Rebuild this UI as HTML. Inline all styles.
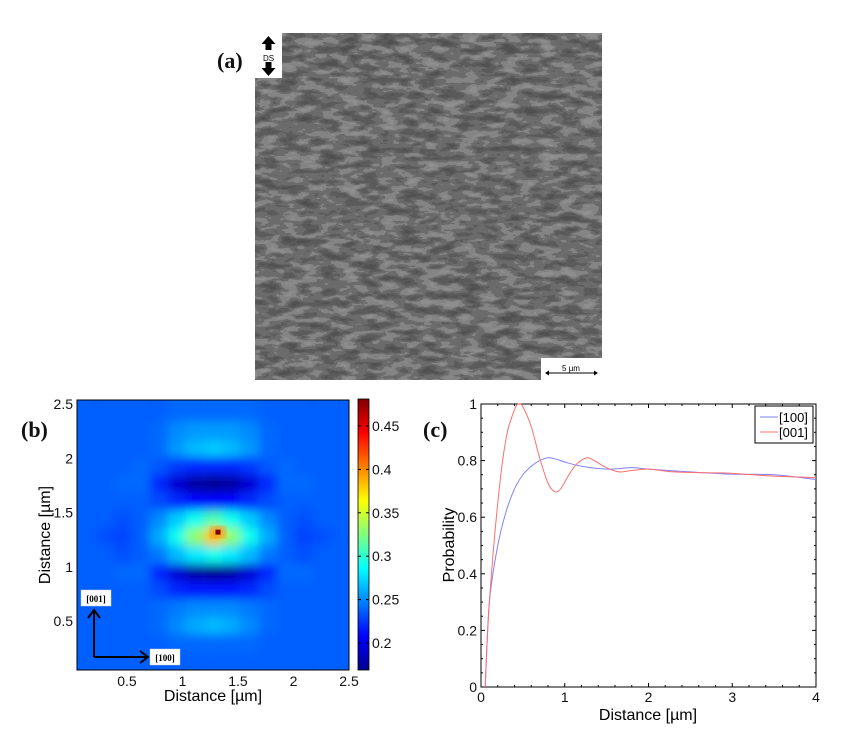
<!DOCTYPE html>
<html><head><meta charset="utf-8">
<style>
body{margin:0;background:#fff;width:853px;height:746px;overflow:hidden;font-family:"Liberation Sans",sans-serif}
svg{position:absolute;left:0;top:0}
.lbl{font-family:"Liberation Serif",serif;font-weight:bold;font-size:22px;fill:#111}
.tk{font-size:14px;fill:#111}
</style></head><body>
<svg id="root" width="853" height="746">
<defs>
<filter id="sem" x="0" y="0" width="100%" height="100%" color-interpolation-filters="sRGB">
<feTurbulence type="fractalNoise" baseFrequency="0.05 0.13" numOctaves="3" seed="7" result="n"/>
<feColorMatrix in="n" type="matrix" values="1 0 0 0 0  1 0 0 0 0  1 0 0 0 0  0 0 0 0 1" result="g0"/>
<feComponentTransfer in="g0"><feFuncR type="discrete" tableValues="0.30 0.32 0.36 0.42 0.52 0.56 0.58"/><feFuncG type="discrete" tableValues="0.30 0.32 0.36 0.42 0.52 0.56 0.58"/><feFuncB type="discrete" tableValues="0.30 0.32 0.36 0.42 0.52 0.56 0.58"/></feComponentTransfer>
</filter>
<filter id="blur" x="-5%" y="-5%" width="110%" height="110%"><feGaussianBlur stdDeviation="5"/></filter>
<clipPath id="hclip"><rect x="77" y="400" width="272" height="270"/></clipPath>
<linearGradient id="cbar" x1="0" y1="1" x2="0" y2="0">
<stop offset="0" stop-color="#00008f"/><stop offset="0.125" stop-color="#0000ff"/><stop offset="0.375" stop-color="#00ffff"/><stop offset="0.625" stop-color="#ffff00"/><stop offset="0.875" stop-color="#ff0000"/><stop offset="1" stop-color="#800000"/>
</linearGradient>
</defs>

<!-- panel a -->
<g>
<rect x="255" y="33" width="347" height="347" filter="url(#sem)"/>
<rect x="255" y="33" width="27" height="45" fill="#fff"/>
<path d="M268.5 36 l7 8 h-4 v6 h-6 v-6 h-4 z" fill="#000"/>
<path d="M268.5 76 l7 -8 h-4 v-6 h-6 v6 h-4 z" fill="#000"/>
<text x="268.5" y="61" font-size="8" text-anchor="middle">DS</text>
<rect x="541" y="358" width="61" height="22" fill="#fff"/>
<line x1="546" y1="373" x2="597" y2="373" stroke="#000" stroke-width="1"/>
<path d="M545 373 l4 -2.5 v5 z M598 373 l-4 -2.5 v5 z" fill="#000"/>
<text x="571" y="371" font-size="8" text-anchor="middle">5 µm</text>
<text class="lbl" x="217" y="68">(a)</text>
</g>

<!-- panel b -->
<g id="pb">
<g clip-path="url(#hclip)">
<rect x="60" y="385" width="305" height="300" fill="rgb(0,108,255)"/>
<g id="cells" filter="url(#blur)"></g>
<g id="peakg"></g>
</g>
<rect x="77" y="400" width="272" height="270" fill="none" stroke="#000"/>
<rect x="358" y="399" width="11" height="271" fill="url(#cbar)" stroke="#000" stroke-width="0.8"/>
<g id="cbticks"></g>
<g id="bticks"></g>
<text x="213" y="701" font-size="16" text-anchor="middle">Distance [µm]</text>
<text transform="translate(50 535) rotate(-90)" font-size="16" text-anchor="middle">Distance [µm]</text>
<line x1="94" y1="657" x2="94" y2="612" stroke="#000" stroke-width="2"/>
<path d="M88 618 L94 610 L100 618" fill="none" stroke="#000" stroke-width="2"/>
<line x1="94" y1="657" x2="146" y2="657" stroke="#000" stroke-width="2"/>
<path d="M140 651 L148 657 L140 663" fill="none" stroke="#000" stroke-width="2"/>
<rect x="81" y="590" width="30" height="16" fill="#fff" stroke="#ccc" stroke-width="0.5"/>
<text x="96" y="602" font-family="Liberation Serif" font-weight="bold" font-size="9" text-anchor="middle">[001]</text>
<rect x="150" y="649" width="30" height="16" fill="#fff" stroke="#ccc" stroke-width="0.5"/>
<text x="165" y="661" font-family="Liberation Serif" font-weight="bold" font-size="9" text-anchor="middle">[100]</text>
<text class="lbl" x="21" y="437">(b)</text>
</g>

<!-- panel c -->
<g id="pc">
<rect x="481" y="404" width="335" height="283" fill="none" stroke="#000"/>
<g id="cticks"></g>
<g id="lines"></g>
<rect x="755" y="406" width="58" height="37" fill="#fff" stroke="#000" stroke-width="1"/>
<line x1="760" y1="417" x2="778" y2="417" stroke="#8080ff"/>
<text x="779" y="422" font-size="13">[100]</text>
<line x1="760" y1="432" x2="778" y2="432" stroke="#ff7070"/>
<text x="779" y="437" font-size="13">[001]</text>
<text x="648" y="720" font-size="16" text-anchor="middle">Distance [µm]</text>
<text transform="translate(454 545) rotate(-90)" font-size="16" text-anchor="middle">Probability</text>
<text class="lbl" x="423" y="437">(c)</text>
</g>
</svg>
<script>
const NS="http://www.w3.org/2000/svg";
// heatmap data (rows top 2.42 µm -> bottom 0.13 µm, 15 cols 0.13 -> 2.42 µm)
const heatX=[0.13,0.30,0.46,0.62,0.79,0.95,1.11,1.28,1.44,1.60,1.77,1.93,2.09,2.26,2.42];
const heatY=[2.42,2.26,2.09,1.93,1.77,1.60,1.44,1.28,1.11,0.95,0.79,0.62,0.46,0.30,0.13];
const heatRows=[
[.237,.237,.237,.237,.237,.24,.24,.24,.24,.24,.237,.237,.237,.237,.237],
[.237,.237,.237,.237,.24,.25,.255,.255,.255,.25,.24,.237,.237,.237,.237],
[.237,.237,.237,.237,.24,.255,.265,.27,.265,.255,.24,.237,.237,.237,.237],
[.237,.237,.237,.24,.235,.225,.22,.22,.22,.225,.235,.24,.237,.237,.237],
[.237,.237,.24,.24,.22,.195,.18,.175,.18,.195,.22,.24,.24,.237,.237],
[.237,.237,.237,.237,.23,.22,.21,.21,.21,.22,.23,.237,.237,.237,.237],
[.237,.237,.232,.237,.25,.27,.29,.31,.29,.27,.25,.237,.232,.237,.237],
[.237,.232,.228,.237,.26,.29,.33,.38,.33,.29,.26,.237,.228,.232,.237],
[.237,.237,.232,.237,.245,.265,.28,.29,.28,.265,.245,.237,.232,.237,.237],
[.237,.237,.24,.24,.22,.195,.18,.175,.18,.195,.22,.24,.24,.237,.237],
[.237,.237,.237,.237,.23,.22,.215,.215,.215,.22,.23,.237,.237,.237,.237],
[.237,.237,.237,.237,.24,.245,.25,.25,.25,.245,.24,.237,.237,.237,.237],
[.237,.237,.237,.237,.24,.25,.26,.265,.26,.25,.24,.237,.237,.237,.237],
[.237,.237,.237,.237,.237,.24,.24,.24,.24,.24,.237,.237,.237,.237,.237],
[.237,.237,.237,.237,.237,.237,.237,.237,.237,.237,.237,.237,.237,.237,.237]];
const heatPeak=[1.32,1.32,0.48];
const heatTicks=[0.5,1,1.5,2,2.5];
const cbTicks=[0.2,0.25,0.3,0.35,0.4,0.45];
// line data
const distBlue=[0.05,0.1,0.2,0.3,0.4,0.5,0.6,0.7,0.8,0.9,1.0,1.2,1.5,1.8,2.0,2.5,3.0,3.5,4.0];
const probBlue=[0,0.3,0.5,0.62,0.7,0.75,0.78,0.80,0.81,0.805,0.795,0.78,0.77,0.775,0.77,0.76,0.752,0.75,0.733];
const distRed=[0.05,0.1,0.2,0.3,0.4,0.45,0.5,0.6,0.7,0.8,0.88,0.95,1.05,1.15,1.27,1.35,1.5,1.65,1.8,2.0,2.3,2.7,3.0,3.5,4.0];
const probRed=[0,0.3,0.65,0.88,0.98,1.0,0.99,0.92,0.81,0.72,0.69,0.70,0.75,0.79,0.81,0.80,0.775,0.76,0.765,0.77,0.76,0.757,0.755,0.745,0.74];
const lineXTicks=[0,1,2,3,4];
const lineYTicks=[0,0.2,0.4,0.6,0.8,1];

function jet(v){const t=Math.max(0,Math.min(1,(v-0.169)/(0.48-0.169)));
 const r=Math.max(0,Math.min(1,1.5-Math.abs(4*t-3))),g=Math.max(0,Math.min(1,1.5-Math.abs(4*t-2))),b=Math.max(0,Math.min(1,1.5-Math.abs(4*t-1)));
 return `rgb(${r*255|0},${g*255|0},${b*255|0})`;}
function el(tag,attrs,parent){const e=document.createElementNS(NS,tag);for(const k in attrs)e.setAttribute(k,attrs[k]);parent.appendChild(e);return e;}
const hx=v=>77+(v-0.05)*(272/2.45), hy=v=>404+(2.5-v)*108.6;
const cells=document.getElementById('cells');
const cw=272/heatX.length, ch=108.6*(heatY[0]-heatY[1]);
heatRows.forEach((row,j)=>row.forEach((v,i)=>{
 let x=hx(heatX[i])-cw/2, y=hy(heatY[j])-ch/2, w=cw+0.5, h=ch+0.5;
 if(i===0){x-=15;w+=15;} if(i===heatX.length-1){w+=15;}
 if(j===0){y-=15;h+=15;} if(j===heatY.length-1){h+=15;}
 const r=el('rect',{x:x,y:y,width:w,height:h,fill:jet(v)},cells);
 
 
}));
const pg=document.getElementById('peakg');
const halo=el('ellipse',{cx:hx(heatPeak[0]),cy:hy(heatPeak[1]),rx:8,ry:6,fill:jet(0.40),filter:'url(#blur)'},pg);


const pk=el('rect',{x:hx(heatPeak[0])-2.5,y:hy(heatPeak[1])-2.5,width:5,height:5,fill:jet(heatPeak[2])},pg);


const bt=document.getElementById('bticks');
heatTicks.forEach(v=>{
 const a=el('text',{x:hx(v),y:686,'text-anchor':'middle',class:'tk'},bt);a.textContent=v;
 
 
 const b=el('text',{x:73,y:hy(v)+5,'text-anchor':'end',class:'tk'},bt);b.textContent=v;
 
 
});
const cy=v=>426+(0.45-v)*(217/0.25);
const cbt=document.getElementById('cbticks');
cbTicks.forEach(v=>{
 el('line',{x1:358,x2:361,y1:cy(v),y2:cy(v),stroke:'#000'},cbt);
 el('line',{x1:366,x2:369,y1:cy(v),y2:cy(v),stroke:'#000'},cbt);
 const t=el('text',{x:372,y:cy(v)+5,class:'tk'},cbt);t.textContent=v;
 
 
});
const lx=v=>481+v*(335/4), ly=v=>687-v*283;
const ct=document.getElementById('cticks');
for(let v=0;v<=4.001;v+=0.2){const big=Math.abs(v-Math.round(v))<1e-6,L=big?4:2;
 el('line',{x1:lx(v),x2:lx(v),y1:687,y2:687-L,stroke:'#000'},ct);el('line',{x1:lx(v),x2:lx(v),y1:404,y2:404+L,stroke:'#000'},ct);}
for(let v=0;v<=1.001;v+=0.05){const big=Math.abs(v*5-Math.round(v*5))<1e-6,L=big?4:2;
 el('line',{x1:481,x2:481+L,y1:ly(v),y2:ly(v),stroke:'#000'},ct);el('line',{x1:816,x2:816-L,y1:ly(v),y2:ly(v),stroke:'#000'},ct);}
lineXTicks.forEach(v=>{const t=el('text',{x:lx(v),y:702,'text-anchor':'middle',class:'tk'},ct);t.textContent=v;
 
 });
lineYTicks.forEach(v=>{const t=el('text',{x:477,y:ly(v)+5,'text-anchor':'end',class:'tk'},ct);t.textContent=v;
 
 });
function smooth(xs,ys){const p=xs.map((x,i)=>[lx(x),ly(ys[i])]);let d=`M${p[0][0]},${p[0][1]}`;
 for(let i=0;i<p.length-1;i++){const p0=p[i-1]||p[i],p1=p[i],p2=p[i+1],p3=p[i+2]||p2;
  d+=` C${p1[0]+(p2[0]-p0[0])/6},${p1[1]+(p2[1]-p0[1])/6} ${p2[0]-(p3[0]-p1[0])/6},${p2[1]-(p3[1]-p1[1])/6} ${p2[0]},${p2[1]}`;}
 return d;}
const lg=document.getElementById('lines');
const lb=el('path',{d:smooth(distBlue,probBlue),fill:'none',stroke:'#8080ff','stroke-width':1},lg);


const lr=el('path',{d:smooth(distRed,probRed),fill:'none',stroke:'#ff6e6e','stroke-width':1},lg);


</script>
</body></html>
